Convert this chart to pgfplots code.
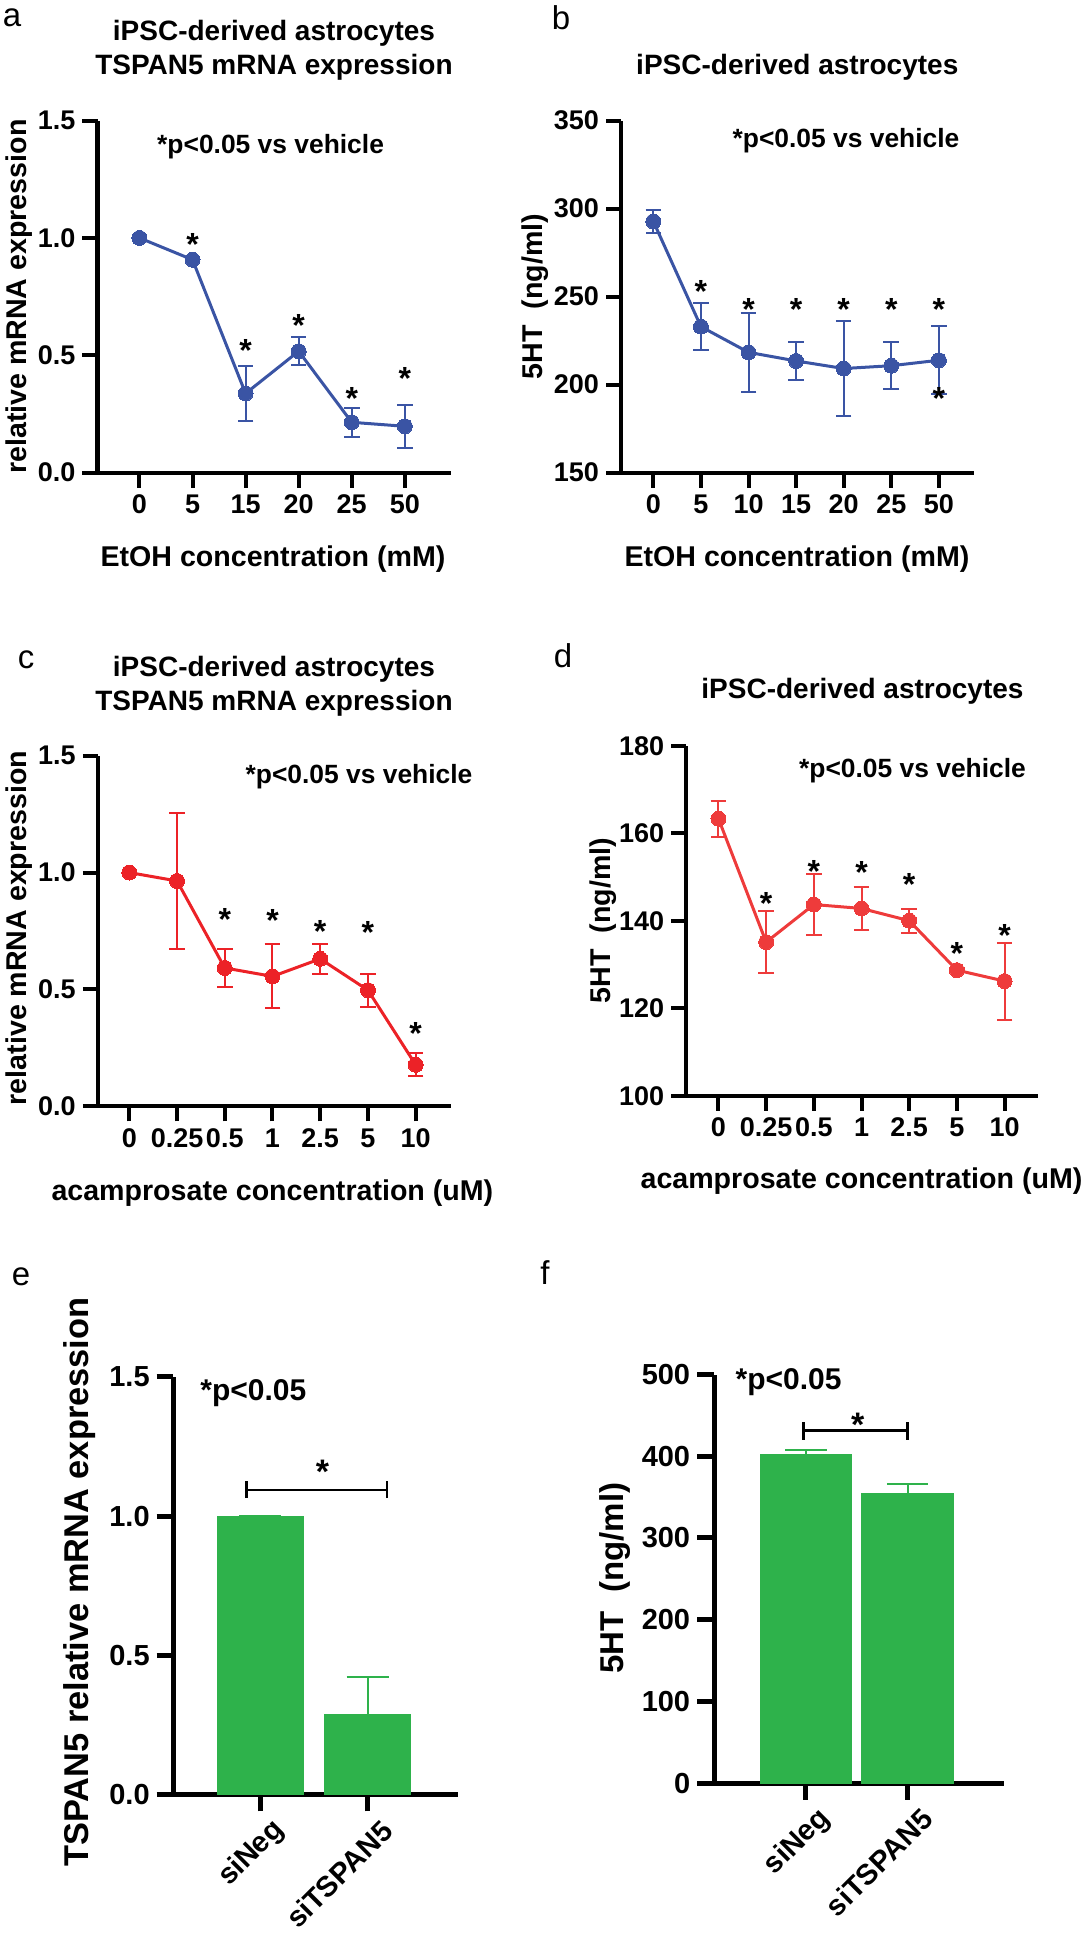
\documentclass[border=0pt]{standalone}
\usepackage{fontspec}
\setmainfont{Liberation Sans}
\usepackage{pgfplots}
\pgfplotsset{compat=1.18}

\definecolor{pblue}{HTML}{3A54A4}
\definecolor{pred}{HTML}{EC2227}
\definecolor{pred2}{HTML}{EE3B3B}
\definecolor{pgreen}{HTML}{2EB24B}

\pgfplotsset{
  panel/.style={
    scale only axis, anchor=south west,
    axis lines=left,
    axis line style={-, line width=2pt, black},
    every tick/.style={line width=2pt, black},
    tick align=outside,
    major tick length=7.5pt,
    tick label style={font=\fontsize{13.5}{14}\selectfont\bfseries},
    enlargelimits=false, clip=false,
  },
  bpanel/.style={
    panel,
    axis line style={-, line width=2.5pt, black},
    every tick/.style={line width=2.5pt, black},
    major tick length=8.4pt,
    tick label style={font=\fontsize{14.5}{15}\selectfont\bfseries},
    xticklabel style={rotate=45, anchor=east, inner sep=0pt, yshift=-12pt, xshift=2pt},
    xtick={0,1}, xticklabels={siNeg,siTSPAN5},
  },
  lineplot/.style={
    #1, line width=1.5pt, mark=*, mark size=3.75pt,
    mark options={solid, fill=#1, draw=#1, line width=0pt},
    error bars/.cd, y dir=both, y explicit,
    error bar style={line width=1pt, #1},
    error mark options={rotate=90, line width=1pt, mark size=3.9pt, #1},
  },
}
\tikzset{
  ttl/.style={font=\fontsize{14}{16.8}\selectfont\bfseries, align=center, inner sep=0pt},
  lbl/.style={font=\fontsize{14.3}{16}\selectfont\bfseries, inner sep=0pt},
  ptx/.style={font=\fontsize{13.2}{15}\selectfont\bfseries, inner sep=0pt},
  pl/.style={font=\fontsize{16.5}{18}\selectfont, inner sep=0pt},
  star/.style={font=\fontsize{16}{16}\selectfont\bfseries, inner sep=0pt, anchor=base, yshift=-9.1pt},
}

\begin{document}
\begin{tikzpicture}
\begin{scope}[x=0.5pt,y=-0.5pt]
\path[use as bounding box] (0,0) rectangle (1088,1950);
\end{scope}

% ---------------- a ----------------
\begin{axis}[panel, at={(48.75pt,-236.25pt)}, width=176.75pt, height=175.95pt,
  xmin=-0.79, xmax=5.87, ymin=0, ymax=1.5,
  xtick={0,...,5}, xticklabels={0,5,15,20,25,50},
  ytick={0,0.5,1,1.5}, yticklabels={0.0,0.5,1.0,1.5}]
\addplot[lineplot=pblue] coordinates {
  (0,1.000) +- (0,0)
  (1,0.907) +- (0,0.005)
  (2,0.337) +- (0,0.117)
  (3,0.517) +- (0,0.060)
  (4,0.214) +- (0,0.063)
  (5,0.197) +- (0,0.092)
};
\node[star] at (axis cs:1,1.003) {*};
\node[star] at (axis cs:2,0.551) {*};
\node[star] at (axis cs:3,0.657) {*};
\node[star] at (axis cs:4,0.345) {*};
\node[star] at (axis cs:5,0.430) {*};
\end{axis}

% ---------------- b ----------------
\begin{axis}[panel, at={(310.5pt,-236.25pt)}, width=176.3pt, height=175.95pt,
  xmin=-0.68, xmax=6.73, ymin=150, ymax=350,
  xtick={0,...,6}, xticklabels={0,5,10,15,20,25,50},
  ytick={150,200,250,300,350}, yticklabels={150,200,250,300,350}]
\addplot[lineplot=pblue] coordinates {
  (0,292.7) +- (0,6.75)
  (1,232.9) +- (0,13.35)
  (2,218.3) +- (0,22.6)
  (3,213.4) +- (0,10.7)
  (4,209.1) +- (0,26.75)
  (5,210.7) +- (0,13.3)
  (6,213.8) +- (0,19.3)
};
\node[star] at (axis cs:1,257.2) {*};
\node[star] at (axis cs:2,246.6) {*};
\node[star] at (axis cs:3,246.6) {*};
\node[star] at (axis cs:4,246.6) {*};
\node[star] at (axis cs:5,246.6) {*};
\node[star] at (axis cs:6,246.6) {*};
\node[star] at (axis cs:6,196.1) {*};
\end{axis}

% ---------------- c ----------------
\begin{axis}[panel, at={(48.9pt,-553.2pt)}, width=176.6pt, height=175.4pt,
  xmin=-0.66, xmax=6.74, ymin=0, ymax=1.5,
  xtick={0,...,6}, xticklabels={0,0.25,0.5,1,2.5,5,10},
  ytick={0,0.5,1,1.5}, yticklabels={0.0,0.5,1.0,1.5}]
\addplot[lineplot=pred] coordinates {
  (0,1.000) +- (0,0)
  (1,0.964) +- (0,0.291)
  (2,0.592) +- (0,0.080)
  (3,0.556) +- (0,0.137)
  (4,0.631) +- (0,0.063)
  (5,0.497) +- (0,0.070)
  (6,0.178) +- (0,0.049)
};
\node[star] at (axis cs:2,0.829) {*};
\node[star] at (axis cs:3,0.825) {*};
\node[star] at (axis cs:4,0.778) {*};
\node[star] at (axis cs:5,0.773) {*};
\node[star] at (axis cs:6,0.342) {*};
\end{axis}

% ---------------- d ----------------
\begin{axis}[panel, at={(343.15pt,-547.85pt)}, width=176.05pt, height=175pt,
  xmin=-0.675, xmax=6.71, ymin=100, ymax=180,
  xtick={0,...,6}, xticklabels={0,0.25,0.5,1,2.5,5,10},
  ytick={100,120,140,160,180}, yticklabels={100,120,140,160,180}]
\addplot[lineplot=pred2] coordinates {
  (0,163.3) +- (0,4.15)
  (1,135.1) +- (0,7.05)
  (2,143.7) +- (0,7.0)
  (3,142.8) +- (0,5.0)
  (4,140.0) +- (0,2.75)
  (5,128.7) +- (0,0.5)
  (6,126.2) +- (0,8.8)
};
\node[star] at (axis cs:1,145.5) {*};
\node[star] at (axis cs:2,152.9) {*};
\node[star] at (axis cs:3,152.7) {*};
\node[star] at (axis cs:4,150.0) {*};
\node[star] at (axis cs:5,134.2) {*};
\node[star] at (axis cs:6,138.2) {*};
\end{axis}

% ---------------- e ----------------
\begin{axis}[bpanel, at={(86.75pt,-897.3pt)}, width=142.25pt, height=208.95pt,
  xmin=-0.806, xmax=1.84, ymin=0, ymax=1.5,
  ytick={0,0.5,1,1.5}, yticklabels={0.0,0.5,1.0,1.5}]
\addplot[ybar, bar width=0.8, fill=pgreen, draw=pgreen,
  error bars/.cd, y dir=plus, y explicit,
  error bar style={line width=1pt, pgreen},
  error mark options={rotate=90, line width=1pt, mark size=10.5pt, pgreen}]
  coordinates {(0,1.0) +- (0,0) (1,0.287) +- (0,0.134)};
\addplot[black, line width=1.2pt] coordinates {(-0.128,1.094) (1.177,1.094)};
\addplot[black, line width=1.2pt] coordinates {(-0.128,1.064) (-0.128,1.125)};
\addplot[black, line width=1.2pt] coordinates {(1.177,1.064) (1.177,1.125)};
\node[star, font=\fontsize{17}{17}\selectfont\bfseries, yshift=-0.6pt] at (axis cs:0.58,1.188) {*};
\end{axis}

% ---------------- f ----------------
\begin{axis}[bpanel, at={(357pt,-891.5pt)}, width=144.85pt, height=204.2pt,
  xmin=-0.905, xmax=1.946, ymin=0, ymax=500,
  ytick={0,100,...,500}, yticklabels={0,100,200,300,400,500}]
\addplot[ybar, bar width=0.9, fill=pgreen, draw=pgreen,
  error bars/.cd, y dir=plus, y explicit,
  error bar style={line width=1pt, pgreen},
  error mark options={rotate=90, line width=1pt, mark size=10.4pt, pgreen}]
  coordinates {(0,402.5) +- (0,5.1) (1,354.3) +- (0,11.7)};
\addplot[black, line width=1.2pt] coordinates {(-0.025,431.5) (1.0,431.5)};
\addplot[black, line width=1.2pt] coordinates {(-0.025,420.3) (-0.025,441.6)};
\addplot[black, line width=1.2pt] coordinates {(1.0,420.3) (1.0,441.6)};
\node[star, font=\fontsize{17}{17}\selectfont\bfseries, yshift=-0.6pt] at (axis cs:0.51,447.7) {*};
\end{axis}

% ---------------- texts ----------------
\begin{scope}[x=0.5pt,y=-0.5pt]
% a
\node[pl] at (12,18) {a};
\node[ttl] at (274,50.4) {iPSC-derived astrocytes\\TSPAN5 mRNA expression};
\node[ptx] at (270.6,147) {*p<0.05 vs vehicle};
\node[lbl] at (273,559.5) {EtOH concentration (mM)};
\node[lbl, rotate=90] at (19,296.6) {relative mRNA expression};
% b
\node[pl] at (561,18) {b};
\node[ttl] at (797.3,67.2) {iPSC-derived astrocytes};
\node[ptx] at (846,141) {*p<0.05 vs vehicle};
\node[lbl] at (797,559.5) {EtOH concentration (mM)};
\node[lbl, rotate=90] at (535,296.6) {5HT\ \ (ng/ml)};
% c
\node[pl] at (26,659.5) {c};
\node[ttl] at (274,686.2) {iPSC-derived astrocytes\\TSPAN5 mRNA expression};
\node[ptx] at (359,777) {*p<0.05 vs vehicle};
\node[lbl] at (272.4,1193.3) {acamprosate concentration (uM)};
\node[lbl, rotate=90] at (19,928) {relative mRNA expression};
% d
\node[pl] at (563,655.6) {d};
\node[ttl] at (862.5,691.2) {iPSC-derived astrocytes};
\node[ptx] at (912.5,771) {*p<0.05 vs vehicle};
\node[lbl] at (861.5,1181.5) {acamprosate concentration (uM)};
\node[lbl, rotate=90] at (603,920.5) {5HT\ \ (ng/ml)};
% e
\node[pl] at (21,1277) {e};
\node[font=\fontsize{17.2}{18}\selectfont\bfseries, rotate=90, inner sep=0pt] at (80,1582) {TSPAN5 relative mRNA expression};
\node[font=\fontsize{15}{16}\selectfont\bfseries, inner sep=0pt] at (253.3,1393) {*p<0.05};
% f
\node[pl] at (545,1273) {f};
\node[font=\fontsize{16.5}{18}\selectfont\bfseries, rotate=90, inner sep=0pt] at (615,1578) {5HT\ \ (ng/ml)};
\node[font=\fontsize{15}{16}\selectfont\bfseries, inner sep=0pt] at (788.6,1381.7) {*p<0.05};
\end{scope}
\end{tikzpicture}
\end{document}
